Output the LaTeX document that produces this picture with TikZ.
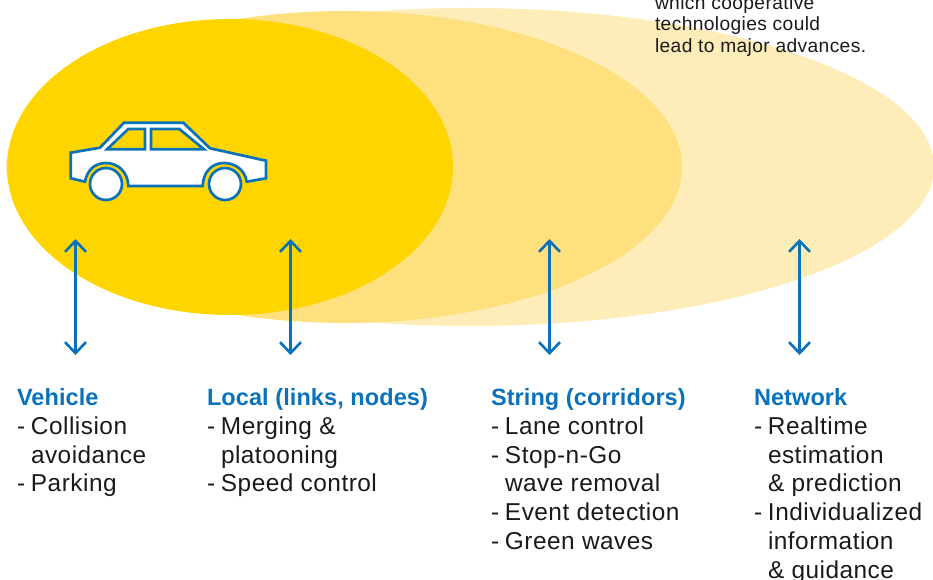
\documentclass[tikz,border=0pt]{standalone}
\usepackage{fontspec}
\setmainfont{Liberation Sans}[LetterSpace=2,BoldFeatures={LetterSpace=0.4}]
\usetikzlibrary{arrows.meta}
\definecolor{ylA}{HTML}{FFD500}
\definecolor{ylB}{HTML}{FFE07F}
\definecolor{ylC}{HTML}{FEEDB9}
\definecolor{bl}{HTML}{0A72BA}
\definecolor{tx}{HTML}{1A1A1A}
\tikzset{
  carline/.style={draw=bl,line width=2.7pt,line join=miter},
  updown/.style={draw=bl,line width=2.6pt,{Straight Barb[length=11pt,width=21pt,line width=2.6pt]}-{Straight Barb[length=11pt,width=21pt,line width=2.6pt]}},
  lbl/.style={anchor=north west,inner sep=0pt,outer sep=0pt,align=left,font=\fontsize{24.4}{28.85}\selectfont,text=tx},
  note/.style={anchor=north west,inner sep=0pt,outer sep=0pt,align=left,font=\fontsize{19.2}{21.5}\selectfont,text=tx}
}
\newcommand{\hd}[1]{{\fontsize{23.5}{28.85}\selectfont\bfseries\color{bl}#1}}
\newcommand{\itm}{\makebox[14pt][l]{-}}
\begin{document}
\begin{tikzpicture}[x=1pt,y=-1pt]
\useasboundingbox (0,0) rectangle (933,580);
\begin{scope}
\clip (0,0) rectangle (933,580);
\fill[ylC] (470,167) ellipse [x radius=464,y radius=159];
\fill[ylB] (345,167) ellipse [x radius=337,y radius=156];
\fill[ylA] (230,167) ellipse [x radius=223,y radius=148];
\end{scope}
% car
\path[carline,fill=white] (70.7,152.7) -- (100,147.7) -- (124,122.7) -- (183.3,122.7) -- (210,148.3) -- (266,160.7) -- (266,178.3) -- (246.7,181.7)
 .. controls (245,170) and (235,163) .. (224,163) .. controls (212,163) and (203,172) .. (202.7,186)
 -- (128.3,186) .. controls (128,172) and (118,163) .. (106,163) .. controls (95,163) and (87,170) .. (85,181.7)
 -- (70.7,178.3) -- cycle;
\path[carline,fill=ylA] (107,149.3) -- (128.3,129) -- (145,129) -- (145,149.3) -- cycle;
\path[carline,fill=ylA] (151,129) -- (179.3,129) -- (204,149.3) -- (151,149.3) -- cycle;
\node[circle,draw=bl,line width=2.7pt,fill=white,minimum size=32pt,inner sep=0pt] (w1) at (106,184) {};
\node[circle,draw=bl,line width=2.7pt,fill=white,minimum size=32pt,inner sep=0pt] (w2) at (225,184) {};
% arrows
\coordinate (a1t) at (75.5,239); \coordinate (a1b) at (75.5,355);
\coordinate (a2t) at (290.5,239); \coordinate (a2b) at (290.5,355);
\coordinate (a3t) at (549.5,239); \coordinate (a3b) at (549.5,355);
\coordinate (a4t) at (799.5,239); \coordinate (a4b) at (799.5,355);
\draw[updown] (a1t) -- (a1b);
\draw[updown] (a2t) -- (a2b);
\draw[updown] (a3t) -- (a3b);
\draw[updown] (a4t) -- (a4b);
% texts
\node[note] (n) at (655,-4.5) {which cooperative\\technologies could\\lead to major advances.};
\node[lbl] (t1) at (17,388.3) {\hd{Vehicle}\\\itm Collision\\\hspace{14pt}avoidance\\\itm Parking};
\node[lbl] (t2) at (207,388.3) {\hd{Local (links, nodes)}\\\itm Merging \&\\\hspace{14pt}platooning\\\itm Speed control};
\node[lbl] (t3) at (491,388.3) {\hd{String (corridors)}\\\itm Lane control\\\itm Stop-n-Go\\\hspace{14pt}wave removal\\\itm Event detection\\\itm Green waves};
\node[lbl] (t4) at (754,388.3) {\hd{Network}\\\itm Realtime\\\hspace{14pt}estimation\\\hspace{14pt}\& prediction\\\itm Individualized\\\hspace{14pt}information\\\hspace{14pt}\& guidance};
\end{tikzpicture}
\end{document}
